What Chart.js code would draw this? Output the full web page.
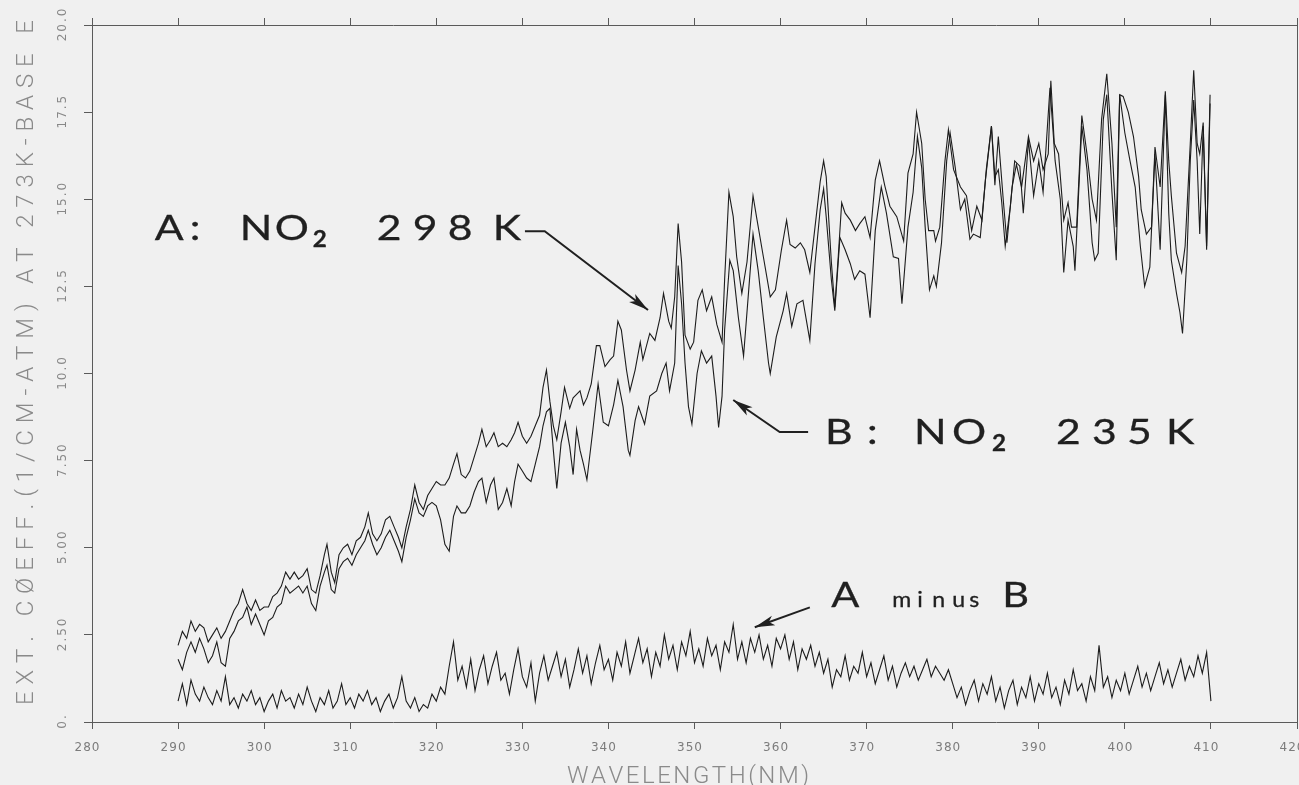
<!DOCTYPE html>
<html>
<head>
<meta charset="utf-8">
<script src="https://cdn.jsdelivr.net/npm/chart.js@4.4.1/dist/chart.umd.min.js"></script>
<style>
  html, body { margin: 0; padding: 0; background: #f0f0f0; }
  #wrap { width: 1299px; height: 785px; }
</style>
</head>
<body>
<div id="wrap"><canvas id="chart" width="1299" height="785"></canvas></div>
<script>
// ─── Data ────────────────────────────────────────────────────────────────────

// A: NO2 at 298 K  [wavelength nm, ext. coeff]
const CURVE_A = [
  [290.0,2.2],[290.5,2.6],[291.0,2.4],[291.5,2.9],[292.0,2.6],[292.5,2.8],[293.0,2.7],[293.5,2.3],
  [294.0,2.5],[294.5,2.7],[295.0,2.4],[295.5,2.6],[296.0,2.9],[296.5,3.2],[297.0,3.4],[297.5,3.8],
  [298.0,3.4],[298.5,3.2],[299.0,3.5],[299.5,3.2],[300.0,3.3],[300.5,3.3],[301.0,3.6],[301.5,3.7],
  [302.0,3.9],[302.5,4.3],[303.0,4.1],[303.5,4.3],[304.0,4.1],[304.5,4.2],[305.0,4.4],[305.5,3.8],
  [306.0,3.7],[306.5,4.2],[307.0,4.8],[307.3,5.1],[307.8,4.3],[308.2,4.0],[308.7,4.8],[309.2,5.0],
  [309.7,5.1],[310.2,4.8],[310.7,5.2],[311.2,5.3],[311.7,5.6],[312.1,6.0],[312.6,5.4],[313.1,5.2],
  [313.6,5.4],[314.1,5.8],[314.6,5.9],[315.1,5.6],[315.6,5.3],[316.0,5.0],[316.5,5.6],[317.0,6.1],
  [317.5,6.8],[318.0,6.3],[318.5,6.1],[319.0,6.5],[319.5,6.7],[320.0,6.9],[320.5,6.8],[321.0,6.8],
  [321.5,7.0],[322.0,7.4],[322.4,7.7],[322.9,7.1],[323.4,7.0],[323.9,7.2],[324.4,7.6],[324.9,8.0],
  [325.3,8.4],[325.8,7.9],[326.3,8.1],[326.7,8.3],[327.2,7.9],[327.7,8.0],[328.2,7.9],[328.7,8.1],
  [329.1,8.3],[329.5,8.6],[330.0,8.2],[330.5,8.0],[331.0,8.2],[331.5,8.5],[332.0,8.8],[332.4,9.6],
  [332.8,10.1],[333.2,9.2],[333.6,8.5],[334.0,8.1],[334.5,8.9],[334.9,9.6],[335.5,9.0],[335.9,9.3],
  [336.3,9.4],[336.7,9.5],[337.1,9.1],[337.5,9.3],[338.0,9.7],[338.6,10.8],[339.0,10.8],[339.6,10.2],
  [340.2,10.4],[340.6,10.5],[341.1,11.5],[341.5,11.25],[342.1,10.1],[342.5,9.5],[343.1,10.1],[343.7,10.9],
  [344.0,10.4],[344.8,11.15],[345.4,10.95],[346.0,11.6],[346.4,12.3],[347.0,11.5],[347.3,11.3],[347.7,12.2],
  [348.1,14.3],[348.5,13.2],[348.9,11.1],[349.5,10.7],[349.9,10.9],[350.4,12.1],[350.9,12.4],[351.4,11.8],
  [352.0,12.2],[352.6,11.4],[353.2,10.9],[353.5,12.7],[354.0,15.2],[354.5,14.5],[354.9,13.35],[355.5,12.3],
  [356.1,13.2],[356.8,15.1],[357.2,14.5],[358.0,13.35],[358.8,12.2],[359.4,12.4],[360.1,13.55],[360.7,14.4],
  [361.1,13.7],[361.7,13.6],[362.3,13.75],[362.8,13.55],[363.4,12.9],[364.0,14.2],[364.6,15.5],[365.0,16.1],
  [365.3,15.65],[365.9,13.2],[366.3,11.9],[366.7,13.35],[367.1,14.9],[367.5,14.6],[368.1,14.4],[368.7,14.1],
  [369.2,14.3],[369.8,14.5],[370.4,13.9],[371.0,15.55],[371.5,16.1],[372.1,15.4],[372.7,14.8],[373.5,14.5],
  [374.3,13.8],[374.8,15.75],[375.4,16.3],[375.8,17.5],[376.4,16.6],[376.8,15.0],[377.2,14.1],[377.8,14.1],
  [378.0,13.8],[378.5,14.2],[379.1,16.1],[379.5,17.0],[380.1,15.85],[380.9,15.35],[381.6,15.1],[382.2,14.1],
  [382.8,14.8],[383.4,14.4],[383.9,15.85],[384.5,17.1],[384.9,15.4],[385.3,16.8],[385.9,14.9],[386.3,13.75],
  [386.9,15.35],[387.4,16.0],[388.0,15.35],[388.8,16.8],[389.4,16.1],[390.0,16.6],[390.5,15.85],[391.1,16.3],
  [391.4,18.4],[391.8,16.6],[392.3,16.3],[392.9,14.4],[393.4,14.9],[393.8,14.2],[394.4,14.2],[395.0,17.4],
  [395.6,16.3],[396.2,15.0],[396.7,14.4],[397.3,17.3],[397.9,18.6],[398.5,16.6],[399.0,14.2],[399.4,18.0],
  [399.8,17.95],[400.4,17.5],[401.0,16.8],[401.6,15.65],[401.9,14.7],[402.5,14.0],[403.1,14.2],[403.5,16.5],
  [404.1,15.35],[404.7,18.1],[405.1,16.1],[405.4,15.1],[406.0,13.45],[406.6,12.9],[407.0,13.65],[407.6,16.6],
  [408.0,18.7],[408.4,16.6],[408.7,16.3],[409.1,17.2],[409.5,13.65],[409.9,18.0]
];

// B: NO2 at 235 K
const CURVE_B = [
  [290.0,1.8],[290.5,1.5],[291.0,2.0],[291.5,2.3],[292.0,2.0],[292.5,2.4],[293.0,2.1],[293.5,1.7],
  [294.0,1.9],[294.5,2.3],[295.0,1.7],[295.5,1.6],[296.0,2.4],[296.5,2.6],[297.0,2.9],[297.5,3.0],
  [298.0,3.3],[298.5,2.8],[299.0,3.1],[299.5,2.8],[300.0,2.5],[300.5,2.9],[301.0,3.0],[301.5,3.3],
  [302.0,3.4],[302.5,3.9],[303.0,3.7],[303.5,3.8],[304.0,3.9],[304.5,3.7],[305.0,3.9],[305.5,3.4],
  [306.0,3.2],[306.5,3.9],[307.0,4.3],[307.3,4.5],[307.8,3.8],[308.2,3.7],[308.7,4.4],[309.2,4.6],
  [309.7,4.7],[310.2,4.5],[310.7,4.8],[311.2,5.0],[311.7,5.2],[312.1,5.5],[312.6,5.1],[313.1,4.8],
  [313.6,5.0],[314.1,5.3],[314.6,5.5],[315.1,5.2],[315.6,4.9],[316.0,4.6],[316.5,5.3],[317.0,5.8],
  [317.5,6.4],[318.0,6.0],[318.5,5.9],[319.0,6.2],[319.5,6.3],[320.0,6.2],[320.5,5.8],[321.0,5.1],
  [321.5,4.9],[322.0,5.9],[322.4,6.2],[322.9,6.0],[323.4,6.0],[323.9,6.2],[324.4,6.6],[324.9,6.9],
  [325.3,7.0],[325.8,6.3],[326.3,6.8],[326.7,7.0],[327.2,6.1],[327.7,6.3],[328.2,6.7],[328.7,6.2],
  [329.1,6.9],[329.5,7.4],[330.0,7.2],[330.5,7.0],[331.0,6.9],[331.5,7.4],[332.0,7.9],[332.4,8.5],
  [332.8,8.9],[333.2,9.0],[333.6,7.8],[334.0,6.7],[334.5,8.0],[335.0,8.6],[335.5,7.9],[335.9,7.1],
  [336.3,8.4],[336.7,7.8],[337.1,7.4],[337.5,6.95],[338.2,8.4],[338.8,9.7],[339.4,8.6],[340.0,8.5],
  [340.6,9.1],[341.1,9.8],[341.7,9.05],[342.3,7.8],[342.5,7.65],[343.1,8.65],[343.5,9.05],[344.2,8.55],
  [344.8,9.35],[345.6,9.5],[346.2,10.0],[346.7,10.3],[347.1,9.5],[347.7,10.3],[348.1,13.1],[348.5,12.0],
  [348.9,10.3],[349.3,9.05],[349.7,8.55],[350.3,10.0],[350.8,10.65],[351.4,10.3],[352.0,10.5],[352.5,9.35],
  [352.8,8.45],[353.2,9.35],[353.5,11.25],[354.1,13.25],[354.5,12.95],[355.1,11.6],[355.7,10.5],[356.3,12.4],
  [356.8,14.0],[357.4,12.95],[358.0,11.6],[358.6,10.3],[358.8,10.0],[359.5,11.05],[360.3,11.8],[360.7,12.3],
  [361.3,11.35],[361.9,12.0],[362.6,12.1],[363.4,10.95],[364.0,13.15],[364.6,14.7],[365.0,15.3],[365.3,14.5],
  [365.9,12.7],[366.3,11.8],[366.9,13.9],[367.5,13.55],[368.1,13.15],[368.6,12.7],[369.2,12.95],[369.8,12.85],
  [370.4,11.6],[371.0,14.1],[371.7,15.35],[372.3,14.6],[373.1,13.35],[373.7,13.3],[374.1,12.0],[374.8,14.2],
  [375.4,15.2],[375.9,16.8],[376.4,15.9],[376.8,14.2],[377.3,12.4],[377.8,12.8],[378.1,12.5],[378.7,13.75],
  [379.3,16.1],[379.7,16.9],[380.3,15.9],[380.9,14.7],[381.4,15.0],[382.0,13.85],[382.4,14.0],[383.2,13.9],
  [383.8,15.55],[384.5,17.1],[384.9,15.65],[385.3,15.85],[385.7,14.9],[386.1,13.65],[386.7,14.8],[387.2,16.1],
  [387.8,15.95],[388.2,14.6],[388.8,16.7],[389.4,15.1],[390.0,16.1],[390.5,15.2],[391.3,18.2],[391.9,16.1],
  [392.5,15.0],[392.9,12.9],[393.4,14.4],[394.0,13.65],[394.2,12.95],[395.0,17.1],[395.6,15.85],[396.2,13.75],
  [396.5,13.25],[396.9,13.45],[397.5,17.3],[397.9,18.0],[398.5,15.2],[399.0,13.25],[399.4,18.0],[400.0,16.9],
  [400.6,16.1],[401.2,15.35],[401.8,13.65],[402.3,12.5],[402.9,13.05],[403.5,16.3],[404.1,13.55],[404.7,18.0],
  [405.1,14.6],[405.4,13.25],[406.0,12.3],[406.4,11.75],[406.7,11.15],[407.2,13.25],[407.6,16.1],[408.0,17.85],
  [408.4,16.1],[408.7,14.0],[409.1,17.1],[409.5,13.55],[409.9,17.75]
];

// A minus B, sampled every 0.5 nm from 290 nm
const DIFF_START = 290;
const DIFF_STEP = 0.5;
const DIFF_VALUES = [
  0.6,1.1,0.5,1.2,0.8,0.6,1.0,0.7,0.5,0.9,0.6,1.3,0.5,0.7,0.4,0.8,0.6,0.9,0.5,0.7,   // 290-299.5
  0.3,0.6,0.8,0.4,0.9,0.6,0.7,0.4,0.8,0.5,1.0,0.6,0.3,0.7,0.5,0.9,0.4,0.6,1.1,0.5,   // 300-309.5
  0.7,0.4,0.8,0.6,0.9,0.5,0.7,0.3,0.6,0.8,0.4,0.7,1.3,0.6,0.4,0.7,0.3,0.5,0.4,0.8,   // 310-319.5
  0.6,1.0,0.8,1.6,2.3,1.2,1.6,1.0,1.8,0.9,1.5,1.9,1.1,1.6,2.0,1.2,1.4,0.8,1.5,2.1,   // 320-329.5
  1.3,1.0,1.7,0.6,1.4,1.9,1.2,1.6,2.0,1.3,1.8,1.0,1.5,2.1,1.4,1.9,1.1,1.7,2.2,1.5,   // 330-339.5
  1.8,1.2,2.0,1.6,2.3,1.4,1.9,2.4,1.7,2.1,1.3,2.0,1.6,2.5,1.8,2.2,1.5,2.3,1.9,2.6,   // 340-349.5
  1.7,2.1,1.6,2.4,1.9,2.2,1.5,2.3,2.0,2.8,1.8,2.3,1.7,2.4,2.0,2.5,1.8,2.2,1.6,2.4,   // 350-359.5
  2.1,2.5,1.8,2.3,1.5,2.1,1.8,2.2,1.6,2.0,1.4,1.8,1.0,1.5,1.3,1.9,1.2,1.6,1.4,2.0,   // 360-369.5
  1.3,1.7,1.1,1.5,1.9,1.2,1.6,1.0,1.4,1.7,1.3,1.6,1.2,1.5,1.8,1.3,1.6,1.4,1.2,1.5,   // 370-379.5
  1.1,0.7,1.0,0.5,0.9,1.2,0.6,1.1,0.8,1.3,0.6,1.0,0.4,0.9,1.2,0.5,1.0,0.7,1.3,0.6,   // 380-389.5
  1.1,0.8,1.4,0.7,1.0,0.5,1.2,0.8,1.5,0.9,1.1,0.6,1.3,0.9,2.2,1.0,1.3,0.7,1.2,0.9,   // 390-399.5
  1.4,0.8,1.2,1.6,1.0,1.4,0.9,1.3,1.7,1.1,1.5,1.0,1.4,1.8,1.2,1.6,1.3,1.9,1.4,2.0,   // 400-409.5
  0.6                                                                                 // 410
];

// Axes
const X_TICKS = [280, 290, 300, 310, 320, 330, 340, 350, 360, 370, 380, 390, 400, 410, 420];
const Y_TICKS = [0, 2.5, 5, 7.5, 10, 12.5, 15, 17.5, 20];
const Y_TICK_LABELS = ["0.", "2.50", "5.00", "7.50", "10.0", "12.5", "15.0", "17.5", "20.0"];
const X_TITLE = "WAVELENGTH(NM)";
const Y_TITLE = "EXT. CØEFF.(1/CM-ATM) AT 273K-BASE E";

// ─── Styling ─────────────────────────────────────────────────────────────────

const INK = "#1c1c1c";
const AXIS = "#5a5a5a";
const LABEL_FONT = "Lato, 'Noto Sans', sans-serif";
const PLOT_FONT = "'DejaVu Sans', sans-serif";

// annotation anchors in data units; glyphs: [text, dx px, size, dy px]
const NOTE_A = { x: 287.3, y: 13.83, glyphs: [
  ["A", 0, 35], [":", 35, 35], ["N", 85, 35], ["O", 120, 35], ["2", 158, 22, 7],
  ["2", 222, 35], ["9", 258, 35], ["8", 293, 35], ["K", 338, 35]
] };
const NOTE_B = { x: 365.15, y: 7.97, glyphs: [
  ["B", 0, 35], [":", 42, 35], ["N", 89, 35], ["O", 127, 35], ["2", 167, 22, 7],
  ["2", 231, 35], ["3", 267, 35], ["5", 302, 35], ["K", 341, 35]
] };
const NOTE_D = { x: 365.9, y: 3.29, glyphs: [
  ["A", 0, 34], ["m", 61, 21], ["i", 86, 21], ["n", 101, 21], ["u", 121, 21], ["s", 138, 21],
  ["B", 171, 34]
] };
const ARROW_A = [[330.3, 14.08], [332.6, 14.08], [344.6, 11.82]];
const ARROW_B = [[363.2, 8.32], [359.9, 8.32], [354.5, 9.24]];
const ARROW_D = [[363.4, 3.29], [357.0, 2.72]];

// ─── Helpers ─────────────────────────────────────────────────────────────────

function toXY(pairs) {
  return pairs.map(p => ({ x: p[0], y: p[1] }));
}

function spaced(ctx, text, x, y, gap) {
  let cx = x;
  for (const ch of text) {
    ctx.fillText(ch, cx, y);
    cx += ctx.measureText(ch).width + gap;
  }
  return cx;
}

function spacedWidth(ctx, text, gap) {
  let w = 0;
  for (const ch of text) w += ctx.measureText(ch).width;
  return w + gap * (text.length - 1);
}

function arrow(ctx, chart, pts) {
  const xs = chart.scales.x, ys = chart.scales.y;
  const p = pts.map(q => [xs.getPixelForValue(q[0]), ys.getPixelForValue(q[1])]);
  ctx.beginPath();
  ctx.moveTo(p[0][0], p[0][1]);
  for (let i = 1; i < p.length; i++) ctx.lineTo(p[i][0], p[i][1]);
  ctx.stroke();
  // arrow head
  const [tx, ty] = p[p.length - 1];
  const [fx, fy] = p[p.length - 2];
  const a = Math.atan2(ty - fy, tx - fx);
  const len = 20, half = 5;
  ctx.beginPath();
  ctx.moveTo(tx, ty);
  ctx.lineTo(tx - len * Math.cos(a) + half * Math.sin(a), ty - len * Math.sin(a) - half * Math.cos(a));
  ctx.lineTo(tx - len * 0.75 * Math.cos(a), ty - len * 0.75 * Math.sin(a));
  ctx.lineTo(tx - len * Math.cos(a) - half * Math.sin(a), ty - len * Math.sin(a) + half * Math.cos(a));
  ctx.closePath();
  ctx.fill();
}

function note(ctx, chart, n) {
  const x0 = chart.scales.x.getPixelForValue(n.x);
  const y0 = chart.scales.y.getPixelForValue(n.y);
  for (const [t, dx, size, dy] of n.glyphs) {
    ctx.save();
    ctx.translate(x0 + dx, y0 + (dy || 0));
    ctx.scale(size > 25 ? 1.22 : 1.1, 1);
    ctx.font = (size < 25 && /\d/.test(t) ? "bold " : "") + size + "px " + LABEL_FONT;
    ctx.fillText(t, 0, 0);
    ctx.lineWidth = 0.3;
    ctx.strokeText(t, 0, 0);
    ctx.restore();
  }
}

// ─── Text / annotation plugin ───────────────────────────────────────────────

const plotterText = {
  id: "plotterText",
  afterDraw(chart) {
    const ctx = chart.ctx;
    const xs = chart.scales.x, ys = chart.scales.y;
    ctx.save();

    // x tick labels
    ctx.fillStyle = "#7c7c7c";
    ctx.font = "12px " + PLOT_FONT;
    ctx.textBaseline = "middle";
    ctx.textAlign = "left";
    X_TICKS.forEach(v => {
      const t = String(v);
      const w = spacedWidth(ctx, t, 1);
      spaced(ctx, t, xs.getPixelForValue(v) - 5 - w / 2, 748, 1);
    });

    // y tick labels, rotated
    ctx.fillStyle = "#888";
    ctx.font = "12px " + PLOT_FONT;
    Y_TICKS.forEach((v, i) => {
      const t = Y_TICK_LABELS[i];
      const w = spacedWidth(ctx, t, 2);
      ctx.save();
      ctx.translate(63, ys.getPixelForValue(v));
      ctx.rotate(-Math.PI / 2);
      spaced(ctx, t, -w / 2, 0, 2);
      ctx.restore();
    });

    // axis titles
    ctx.fillStyle = "#8a8a8a";
    ctx.font = "300 24px Roboto, " + PLOT_FONT;
    ctx.textBaseline = "alphabetic";
    let gap = (242 - spacedWidth(ctx, X_TITLE, 0)) / (X_TITLE.length - 1);
    spaced(ctx, X_TITLE, 567, 783, gap);

    ctx.save();
    ctx.translate(33, 705);
    ctx.rotate(-Math.PI / 2);
    gap = (685 - spacedWidth(ctx, Y_TITLE, 0)) / (Y_TITLE.length - 1);
    spaced(ctx, Y_TITLE, 0, 0, gap);
    ctx.restore();

    // annotations
    ctx.fillStyle = "#202020";
    ctx.strokeStyle = "#202020";
    note(ctx, chart, NOTE_A);
    note(ctx, chart, NOTE_B);
    note(ctx, chart, NOTE_D);

    ctx.lineWidth = 2;
    arrow(ctx, chart, ARROW_A);
    arrow(ctx, chart, ARROW_B);
    arrow(ctx, chart, ARROW_D);

    ctx.restore();
  }
};

// ─── Chart ───────────────────────────────────────────────────────────────────

const lineStyle = {
  borderColor: INK,
  borderWidth: 1.1,
  pointRadius: 0,
  tension: 0,
  fill: false
};

const setTicks = list => scale => { scale.ticks = list.map(v => ({ value: v })); };

new Chart(document.getElementById("chart"), {
  type: "line",
  data: {
    datasets: [
      { label: "A: NO2 298K", data: toXY(CURVE_A), ...lineStyle },
      { label: "B: NO2 235K", data: toXY(CURVE_B), ...lineStyle },
      {
        label: "A minus B",
        data: DIFF_VALUES.map((v, i) => ({ x: DIFF_START + i * DIFF_STEP, y: v })),
        ...lineStyle
      }
    ]
  },
  options: {
    responsive: false,
    animation: false,
    layout: { padding: { left: 84, right: 2, top: 18, bottom: 56 } },
    plugins: { legend: { display: false }, tooltip: { enabled: false } },
    scales: {
      x: {
        type: "linear", position: "bottom", min: 280, max: 420,
        afterBuildTicks: setTicks(X_TICKS),
        ticks: { display: false },
        grid: { drawOnChartArea: false, tickLength: 7, color: AXIS },
        border: { color: AXIS, width: 1 }
      },
      x2: {
        type: "linear", position: "top", min: 280, max: 420,
        afterBuildTicks: setTicks(X_TICKS),
        ticks: { display: false },
        grid: { drawOnChartArea: false, tickLength: 7, color: AXIS },
        border: { color: AXIS, width: 1 }
      },
      y: {
        type: "linear", position: "left", min: 0, max: 20,
        afterBuildTicks: setTicks(Y_TICKS),
        ticks: { display: false },
        grid: { drawOnChartArea: false, tickLength: 8, color: AXIS },
        border: { color: AXIS, width: 1 }
      },
      y2: {
        type: "linear", position: "right", min: 0, max: 20,
        ticks: { display: false },
        grid: { display: false, drawTicks: false },
        border: { color: AXIS, width: 1 }
      }
    }
  },
  plugins: [plotterText]
});
</script>
</body>
</html>
